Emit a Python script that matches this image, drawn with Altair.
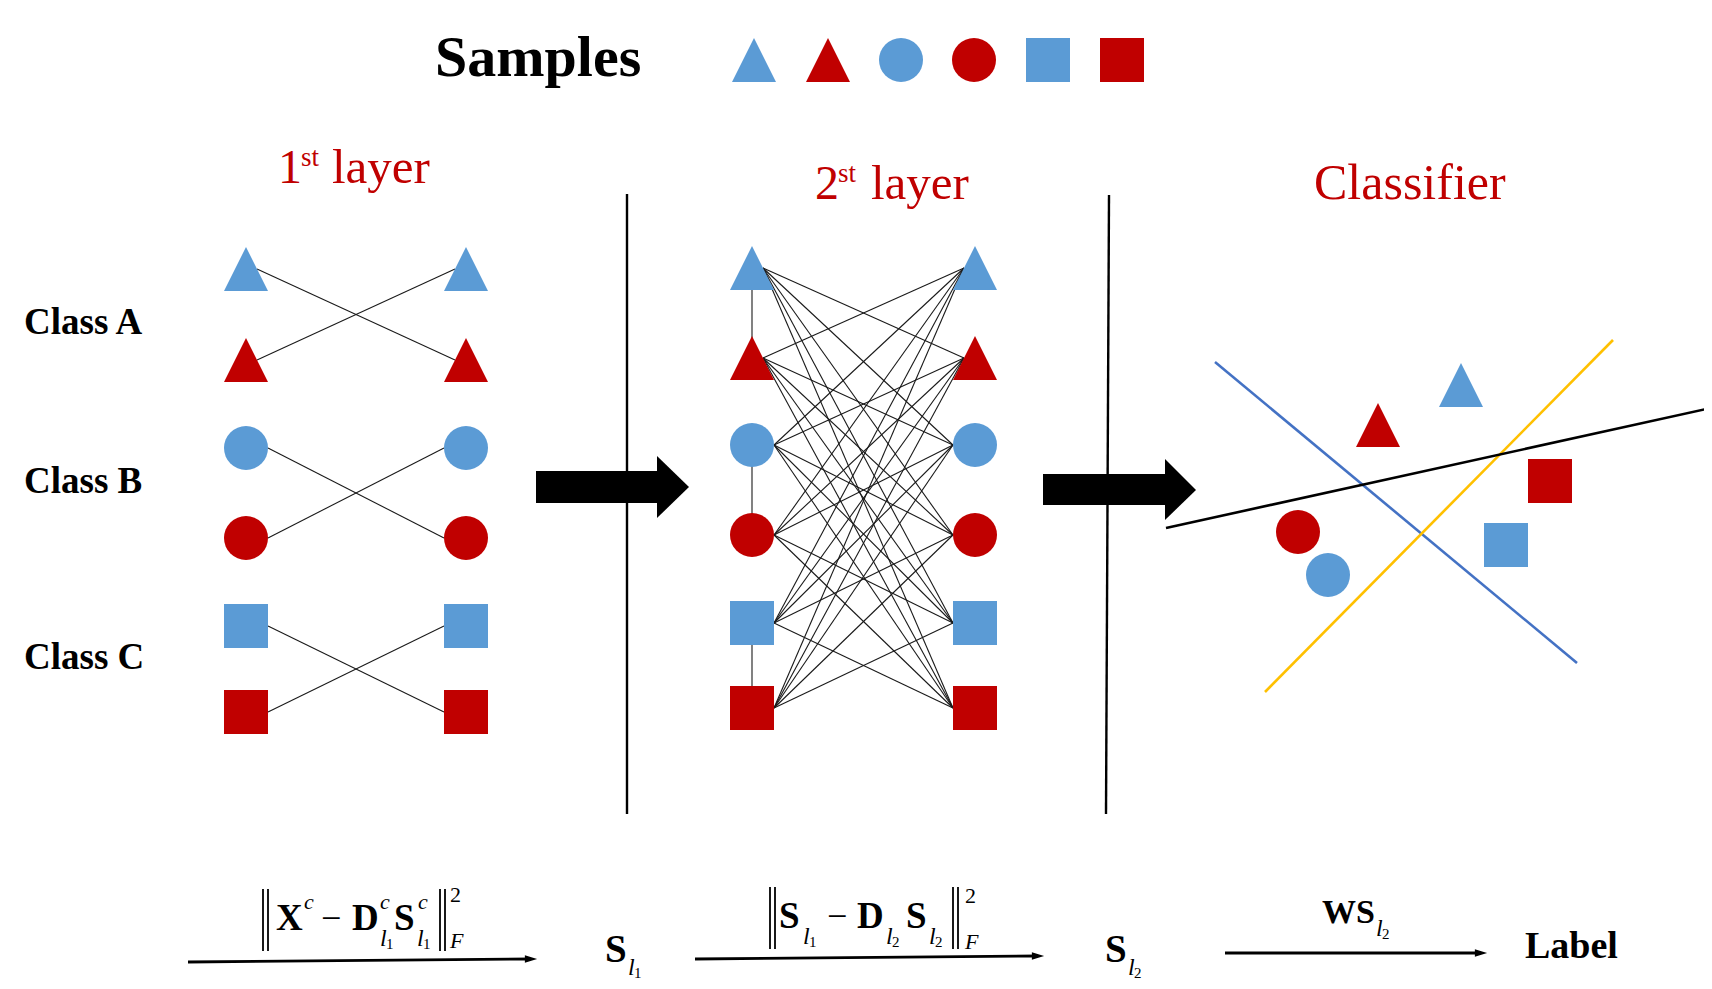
import altair as alt
import pandas as pd

# everything is placed in the pixel frame of the original figure (x right, y down)

row_kind = ["triangle", "triangle", "circle", "circle", "square", "square"]
row_tone = ["blue", "red", "blue", "red", "blue", "red"]

sample_x = [754, 828, 901, 974, 1048, 1122]
sample_y = [60, 60, 60, 60, 60, 60]

layer1_cols = [246, 466]
layer1_rows = [269, 360, 448, 538, 626, 712]
layer2_cols = [752, 975]
layer2_rows = [268, 358, 445, 535, 623, 708]

layer1_links = [(0, 1), (1, 0), (2, 3), (3, 2), (4, 5), (5, 4)]
layer2_links = [(i, j) for i in range(6) for j in range(6) if i != j]
layer2_chain = [(0, 1), (2, 3), (4, 5)]

clf_kind = ["triangle", "triangle", "square", "square", "circle", "circle"]
clf_tone = ["blue", "red", "red", "blue", "red", "blue"]
clf_x = [1461, 1378, 1550, 1506, 1298, 1328]
clf_y = [385, 425, 481, 545, 532, 575]

boundary_name = ["blue", "yellow", "black"]
boundary_x = [1215, 1265, 1166]
boundary_y = [362, 692, 528]
boundary_x2 = [1577, 1613, 1711]
boundary_y2 = [663, 340, 408]

sep_x = [627, 1109]
sep_x2 = [627, 1106]
sep_top = [194, 195]
sep_bottom = [814, 814]

block_x = [536, 1043]
block_x2 = [657, 1165]
block_y = [471, 474]
block_y2 = [503, 505]
block_tip_x = [689, 1196]
block_tip_y = [487, 490]
block_head_top = [456, 459]
block_head_bottom = [518, 520]

flow_x = [188, 695, 1225]
flow_y = [962, 959, 953]
flow_tip_x = [537, 1044, 1487]
flow_tip_y = [959, 956, 953]

norm_x = [263, 268, 440, 445, 770, 775, 953, 958]
norm_top = [889, 889, 889, 889, 887, 887, 887, 887]
norm_bottom = [951, 951, 951, 951, 949, 949, 949, 949]

# (text, left x, baseline y, font size, look)
texts = [
    ("Samples", 435, 76, 58, "bold"),
    ("Class A", 24, 334, 37, "bold"),
    ("Class B", 24, 493, 37, "bold"),
    ("Class C", 24, 669, 37, "bold"),
    ("1", 278, 183, 48, "red"),
    ("st", 301, 166, 27, "red"),
    ("layer", 332, 183, 49, "red"),
    ("2", 815, 199, 48, "red"),
    ("st", 838, 182, 27, "red"),
    ("layer", 871, 199, 49, "red"),
    ("Classifier", 1314, 199, 50, "red"),
    # ||X^c - D^c_l1 S^c_l1||^2_F
    ("X", 276, 930, 37, "bold"),
    ("c", 304, 909, 22, "italic"),
    ("\u2212", 321, 930, 36, "roman"),
    ("D", 352, 930, 37, "bold"),
    ("c", 380, 909, 22, "italic"),
    ("l", 380, 946, 24, "italic"),
    ("1", 386, 949, 15, "roman"),
    ("S", 394, 930, 37, "bold"),
    ("c", 418, 909, 22, "italic"),
    ("l", 417, 946, 24, "italic"),
    ("1", 423, 949, 15, "roman"),
    ("2", 450, 902, 22, "roman"),
    ("F", 450, 948, 22, "italic"),
    # S_l1
    ("S", 605, 962, 39, "bold"),
    ("l", 628, 975, 24, "italic"),
    ("1", 634, 978, 15, "roman"),
    # ||S_l1 - D_l2 S_l2||^2_F
    ("S", 779, 928, 37, "bold"),
    ("l", 803, 944, 24, "italic"),
    ("1", 809, 947, 15, "roman"),
    ("\u2212", 827, 928, 36, "roman"),
    ("D", 857, 928, 37, "bold"),
    ("l", 886, 944, 24, "italic"),
    ("2", 892, 947, 15, "roman"),
    ("S", 906, 928, 37, "bold"),
    ("l", 929, 944, 24, "italic"),
    ("2", 935, 947, 15, "roman"),
    ("2", 965, 903, 22, "roman"),
    ("F", 965, 949, 22, "italic"),
    # S_l2
    ("S", 1105, 962, 39, "bold"),
    ("l", 1128, 975, 24, "italic"),
    ("2", 1134, 978, 15, "roman"),
    # WS_l2 and Label
    ("WS", 1322, 923, 34, "bold"),
    ("l", 1376, 936, 24, "italic"),
    ("2", 1382, 939, 15, "roman"),
    ("Label", 1525, 958, 38, "bold"),
]

BLUE = "#5B9BD5"
RED = "#C00000"
TRIANGLE = "M0,-1L1,1L-1,1Z"
EDGE_OFF = {"triangle": 11, "circle": 22, "square": 22}
SERIF = "Liberation Serif, DejaVu Serif, serif"

XS = alt.Scale(domain=[8, 1704])
YS = alt.Scale(domain=[8, 981], reverse=True)


def xq(field):
    return alt.X(field, type="quantitative", scale=XS, axis=None)


def yq(field):
    return alt.Y(field, type="quantitative", scale=YS, axis=None)


# nodes
nodes = [dict(x=x, y=y, kind=k, tone=t) for x, y, k, t in zip(sample_x, sample_y, row_kind, row_tone)]
for cols, rows in [(layer1_cols, layer1_rows), (layer2_cols, layer2_rows)]:
    for c in cols:
        for y, k, t in zip(rows, row_kind, row_tone):
            nodes.append(dict(x=c, y=y, kind=k, tone=t))
nodes += [dict(x=x, y=y, kind=k, tone=t) for x, y, k, t in zip(clf_x, clf_y, clf_kind, clf_tone)]
nodes = pd.DataFrame(nodes)

# links between the columns
links = []
for cols, rows, pairs in [(layer1_cols, layer1_rows, layer1_links), (layer2_cols, layer2_rows, layer2_links)]:
    for i, j in pairs:
        links.append(dict(x=cols[0] + EDGE_OFF[row_kind[i]], y=rows[i],
                          x2=cols[1] - EDGE_OFF[row_kind[j]], y2=rows[j]))
for i, j in layer2_chain:
    links.append(dict(x=layer2_cols[0], y=layer2_rows[i], x2=layer2_cols[0], y2=layer2_rows[j]))
links = pd.DataFrame(links)

link_layer = alt.Chart(links).mark_rule(color="#1a1a1a", strokeWidth=1.1).encode(
    x=xq("x"), y=yq("y"), x2="x2", y2="y2"
)

node_layer = alt.Chart(nodes).mark_point(filled=True, opacity=1, size=1936, strokeWidth=0).encode(
    x=xq("x"),
    y=yq("y"),
    shape=alt.Shape("kind:N", scale=alt.Scale(domain=["triangle", "circle", "square"],
                                              range=[TRIANGLE, "circle", "square"]), legend=None),
    color=alt.Color("tone:N", scale=alt.Scale(domain=["blue", "red"], range=[BLUE, RED]), legend=None),
)

bounds = pd.DataFrame(dict(name=boundary_name, x=boundary_x, y=boundary_y, x2=boundary_x2, y2=boundary_y2))
bound_layer = alt.Chart(bounds).mark_rule().encode(
    x=xq("x"), y=yq("y"), x2="x2", y2="y2",
    stroke=alt.Stroke("name:N", scale=alt.Scale(domain=["blue", "yellow", "black"],
                                                range=["#4472C4", "#FFC000", "#000000"]), legend=None),
    strokeWidth=alt.StrokeWidth("name:N", scale=alt.Scale(domain=["blue", "yellow", "black"],
                                                          range=[2.6, 2.6, 3.4]), legend=None),
)

seps = pd.DataFrame(dict(x=sep_x, x2=sep_x2, y=sep_top, y2=sep_bottom))
sep_layer = alt.Chart(seps).mark_rule(color="black", strokeWidth=2.4).encode(
    x=xq("x"), y=yq("y"), x2="x2", y2="y2"
)

bodies = pd.DataFrame(dict(x=block_x, x2=block_x2, y=block_y, y2=block_y2))
body_layer = alt.Chart(bodies).mark_rect(color="black").encode(
    x=xq("x"), x2="x2", y=yq("y"), y2="y2"
)

heads = []
for n in range(len(block_x)):
    heads.append(dict(arrow=n, x=block_x2[n], y=block_head_top[n], y2=block_head_bottom[n]))
    heads.append(dict(arrow=n, x=block_tip_x[n], y=block_tip_y[n], y2=block_tip_y[n]))
heads = pd.DataFrame(heads)
head_layer = alt.Chart(heads).mark_area(color="black", opacity=1).encode(
    x=xq("x"), y=yq("y"), y2="y2", detail="arrow:N"
)

flows = pd.DataFrame(dict(x=flow_x, y=flow_y, x2=[t - 6 for t in flow_tip_x], y2=flow_tip_y,
                          tx=[t - 6 for t in flow_tip_x]))
flow_layer = alt.Chart(flows).mark_rule(color="black", strokeWidth=2.8).encode(
    x=xq("x"), y=yq("y"), x2="x2", y2="y2"
)
flow_head_layer = alt.Chart(flows).mark_point(
    shape="M-1,-0.6L1,0L-1,0.6Z", filled=True, opacity=1, size=150, color="black", strokeWidth=0
).encode(x=xq("tx"), y=yq("y2"))

norms = pd.DataFrame(dict(x=norm_x, y=norm_top, y2=norm_bottom))
norm_layer = alt.Chart(norms).mark_rule(color="black", strokeWidth=1.8).encode(
    x=xq("x"), y=yq("y"), y2="y2"
)

tdf = pd.DataFrame(texts, columns=["text", "x", "y", "size", "look"])
looks = {
    "bold": dict(fontWeight="bold", color="black"),
    "red": dict(fontWeight=400, color=RED),
    "roman": dict(fontWeight=400, color="black"),
    "italic": dict(fontWeight=400, fontStyle="italic", color="black"),
}
text_layers = []
for look, opts in looks.items():
    text_layers.append(
        alt.Chart(tdf[tdf["look"] == look]).mark_text(
            align="left", baseline="alphabetic", font=SERIF, **opts
        ).encode(
            x=xq("x"), y=yq("y"), text="text:N", size=alt.Size("size:Q", scale=None)
        )
    )

chart = (
    alt.layer(
        link_layer, node_layer, bound_layer, body_layer, head_layer, sep_layer,
        flow_layer, flow_head_layer, norm_layer, *text_layers
    )
    .properties(width=1696, height=973, padding=0, autosize="none")
    .configure_view(stroke=None)
)

chart.save("out.html", embed_options={"renderer": "svg", "actions": False})
